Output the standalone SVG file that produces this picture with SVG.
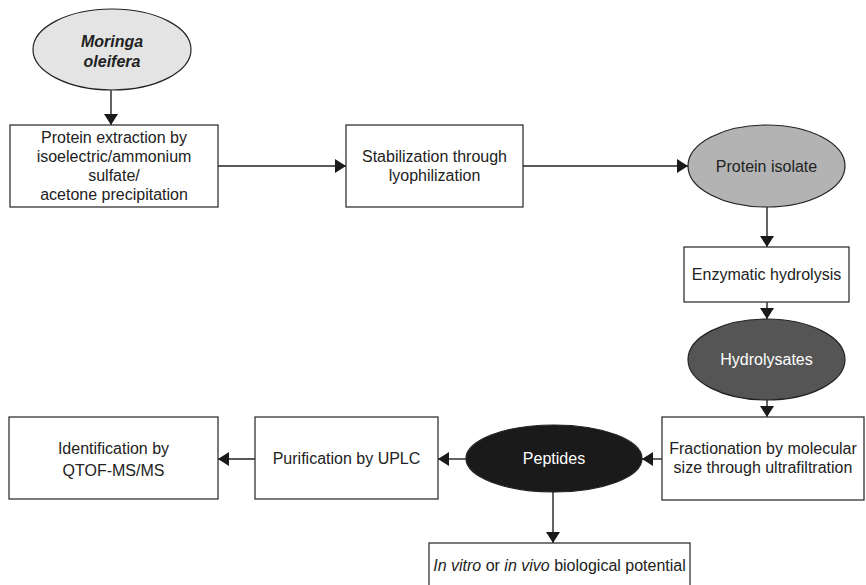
<svg xmlns="http://www.w3.org/2000/svg" width="866" height="585" viewBox="0 0 866 585">
<style>
.box{fill:#fff;stroke:#333;stroke-width:1.3}
.ell{stroke:#222;stroke-width:1.2}
.t{font-family:"Liberation Sans",Arial,sans-serif;font-size:16px;fill:#222;text-anchor:middle}
.w{fill:#fff}
.c{stroke:#222;stroke-width:1.4;fill:none;marker-end:url(#ah)}
</style>
<defs>
<marker id="ah" markerUnits="userSpaceOnUse" markerWidth="12" markerHeight="14" refX="11" refY="7" orient="auto">
<path d="M0,0 L11,7 L0,14 z" fill="#1a1a1a"/>
</marker>
</defs>
<g id="connectors">
<line class="c" x1="111" y1="90" x2="111" y2="125"/>
<line class="c" x1="218" y1="166" x2="346" y2="166"/>
<line class="c" x1="523" y1="166" x2="688" y2="166"/>
<line class="c" x1="767" y1="207" x2="767" y2="247"/>
<line class="c" x1="767" y1="302" x2="767" y2="319"/>
<line class="c" x1="767" y1="400" x2="767" y2="417"/>
<line class="c" x1="662" y1="459" x2="642" y2="459"/>
<line class="c" x1="466" y1="459" x2="438" y2="459"/>
<line class="c" x1="255" y1="459" x2="218" y2="459"/>
<line class="c" x1="553" y1="492" x2="553" y2="543"/>
</g>
<g id="moringa">
<ellipse class="ell" cx="112" cy="49.5" rx="79" ry="40.5" fill="#e4e4e4"/>
<text class="t" x="112" y="47" font-weight="bold" font-style="italic">Moringa</text>
<text class="t" x="112" y="67" font-weight="bold" font-style="italic">oleifera</text>
</g>
<g id="extraction">
<rect class="box" x="10" y="125" width="208" height="82"/>
<text class="t" x="114" y="143">Protein extraction by</text>
<text class="t" x="114" y="162">isoelectric/ammonium</text>
<text class="t" x="114" y="181">sulfate/</text>
<text class="t" x="114" y="200">acetone precipitation</text>
</g>
<g id="stabilization">
<rect class="box" x="346" y="125" width="177" height="82"/>
<text class="t" x="434.5" y="162">Stabilization through</text>
<text class="t" x="434.5" y="181">lyophilization</text>
</g>
<g id="isolate">
<ellipse class="ell" cx="766.5" cy="166" rx="78.5" ry="41" fill="#b3b3b3"/>
<text class="t" x="766.5" y="172">Protein isolate</text>
</g>
<g id="enzymatic">
<rect class="box" x="684" y="247" width="165" height="55"/>
<text class="t" x="766.5" y="280">Enzymatic hydrolysis</text>
</g>
<g id="hydrolysates">
<ellipse class="ell" cx="766.5" cy="359.5" rx="78.5" ry="40.5" fill="#555"/>
<text class="t w" x="766.5" y="365">Hydrolysates</text>
</g>
<g id="fractionation">
<rect class="box" x="662" y="417" width="202" height="83"/>
<text class="t" x="763" y="454">Fractionation by molecular</text>
<text class="t" x="763" y="473">size through ultrafiltration</text>
</g>
<g id="peptides">
<ellipse class="ell" cx="554" cy="458.5" rx="88" ry="33.5" fill="#1a1a1a"/>
<text class="t w" x="554" y="464">Peptides</text>
</g>
<g id="purification">
<rect class="box" x="255" y="417" width="183" height="82"/>
<text class="t" x="346.5" y="464">Purification by UPLC</text>
</g>
<g id="identification">
<rect class="box" x="9" y="417" width="209" height="82"/>
<text class="t" x="113.5" y="454">Identification by</text>
<text class="t" x="113.5" y="476">QTOF-MS/MS</text>
</g>
<g id="invitro">
<rect class="box" x="429" y="543" width="261" height="50"/>
<text class="t" x="559.5" y="571"><tspan font-style="italic">In vitro</tspan> or <tspan font-style="italic">in vivo</tspan> biological potential</text>
</g>
</svg>
